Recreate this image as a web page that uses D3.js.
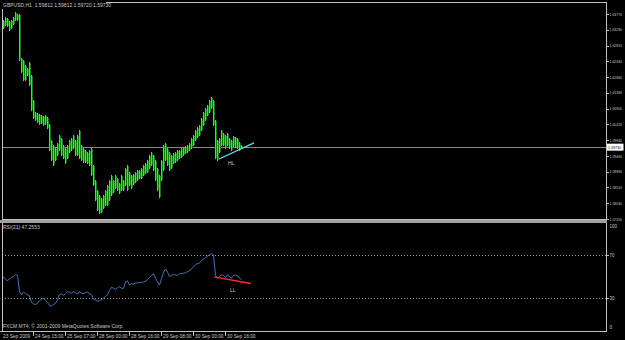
<!DOCTYPE html>
<html><head><meta charset="utf-8">
<script src="https://cdn.jsdelivr.net/npm/d3@7"></script>
<style>html,body{margin:0;padding:0;background:#000;overflow:hidden}</style>
</head><body><svg id="c" width="625" height="340"></svg>
<script>
// ---- data ----
const symbolTitle = "GBPUSD,H1";
const titleOHLC = ["1.59812", "1.59812", "1.59720", "1.59730"];
const lastPrice = 1.59730;
const rsiTitle = "RSI(21) 47.2553";
const copyright = "FXCM MT4, \u00a9 2001-2009 MetaQuotes Software Corp.";

const highs = [1.6344,1.6359,1.6368,1.6365,1.6356,1.6359,1.6368,1.6383,1.6377,1.6377,
1.6243,1.6237,1.6222,1.6213,1.6231,1.6192,1.6116,1.6080,1.6077,1.6074,
1.6071,1.6068,1.6071,1.6065,1.6043,1.5994,1.5979,1.5970,1.5985,1.6010,
1.6001,1.5979,1.5970,1.5979,1.5994,1.6001,1.6010,1.5994,1.6010,1.6025,
1.5979,1.5970,1.5964,1.5958,1.5964,1.5970,1.5919,1.5873,1.5843,1.5828,
1.5819,1.5828,1.5843,1.5858,1.5873,1.5889,1.5873,1.5889,1.5880,1.5864,
1.5889,1.5873,1.5910,1.5919,1.5898,1.5889,1.5892,1.5898,1.5904,1.5904,
1.5910,1.5919,1.5925,1.5934,1.5949,1.5958,1.5949,1.5934,1.5910,1.5889,
1.5934,1.5979,1.5985,1.5970,1.5958,1.5949,1.5955,1.5958,1.5964,1.5964,
1.5970,1.5973,1.5976,1.5979,1.5985,1.6001,1.6010,1.6025,1.6034,1.6040,
1.6061,1.6080,1.6092,1.6101,1.6116,1.6125,1.6116,1.6055,1.5994,1.6001,
1.6025,1.6016,1.6010,1.6016,1.6001,1.5994,1.6007,1.6004,1.6001,1.5988,
1.5981];
const lows = [1.6319,1.6335,1.6344,1.6341,1.6328,1.6335,1.6347,1.6359,1.6359,1.6237,
1.6201,1.6177,1.6177,1.6192,1.6161,1.6086,1.6061,1.6055,1.6049,1.6043,
1.6046,1.6040,1.6043,1.6031,1.5965,1.5934,1.5919,1.5934,1.5949,1.5964,
1.5949,1.5940,1.5925,1.5940,1.5958,1.5964,1.5970,1.5949,1.5949,1.5940,
1.5934,1.5928,1.5928,1.5925,1.5919,1.5888,1.5858,1.5813,1.5782,1.5773,
1.5776,1.5788,1.5797,1.5797,1.5813,1.5828,1.5837,1.5849,1.5843,1.5834,
1.5843,1.5843,1.5858,1.5843,1.5858,1.5849,1.5861,1.5867,1.5873,1.5880,
1.5880,1.5889,1.5895,1.5898,1.5910,1.5919,1.5904,1.5873,1.5843,1.5822,
1.5873,1.5904,1.5934,1.5919,1.5904,1.5910,1.5925,1.5928,1.5934,1.5940,
1.5943,1.5949,1.5955,1.5958,1.5964,1.5970,1.5979,1.5994,1.6004,1.6010,
1.6025,1.6040,1.6055,1.6071,1.6080,1.6092,1.6040,1.5940,1.5934,1.5958,
1.5979,1.5979,1.5970,1.5979,1.5970,1.5964,1.5976,1.5973,1.5970,1.5964,
1.5972];
const rsi = [47,49.5,47.5,46,48,49,50,52,51,36,
33,35.5,34,33,32,26,24.5,24,25,27.5,
29,29.5,28,26,23,22.5,24,25,28,33,
34,32.5,34,36,35,34.5,36,35,33.5,36,
34.5,34,35,35.5,34,33,29,28,27,27.5,
28.5,30,31.5,33,37,40,39,38,39.5,40.5,
39,39,45,46,42,43.5,43,44,44,44.5,
44.5,45,45.5,47,49,51,52.5,48.5,45,42,
48,54,57,54,50,51,52,51.5,51,52.5,
53,53,53.5,54.5,55.5,57,59,61,62,62.5,
65,66,67.5,69,70,71.5,70,51,48.5,50,
51.5,51,49,51.5,50,48.5,51,51.5,50.5,48.5,
47.26];

const priceTicks = [1.63770,1.63290,1.62810,1.62340,1.61860,1.61380,1.60900,
  1.60420,1.59940,1.59460,1.58990,1.58510,1.58030,1.57550];
const rsiTicks = [100,70,30,0];
const rsiLevels = [70,30];
const timeLabels = ["23 Sep 2009","24 Sep 15:00","25 Sep 07:00","28 Sep 00:00",
  "28 Sep 16:00","29 Sep 08:00","30 Sep 00:00","30 Sep 16:00"];
const timeIdx = [0,16,32,48,64,80,96,112];
const hlLine = [[109,1.5937],[126.5,1.5986]];
const llLine = [[106.5,49.6],[125,43.5]];

// ---- layout ----
const L = 2, R = 606, mTop = 2, mBot = 220, rTop = 223, rBot = 331;
const FONT = "'Liberation Sans', Arial, sans-serif";
const txtCol = "#c8c8c8";

const svg = d3.select("#c");
svg.append("rect").attr("width",625).attr("height",340).attr("fill","#000");

const x = d3.scaleLinear().domain([0,300]).range([1,601]);
const y = d3.scaleLinear().domain([1.57550,1.63770]).range([219,14]);
const yr = d3.scaleLinear().domain([0,100]).range([330.25,222.75]);

const defs = svg.append("defs");
defs.append("clipPath").attr("id","cm").append("rect")
  .attr("x",L).attr("y",mTop).attr("width",R-L).attr("height",mBot-mTop);
defs.append("clipPath").attr("id","cr").append("rect")
  .attr("x",L).attr("y",rTop).attr("width",R-L).attr("height",rBot-rTop);

// main panel
const gm = svg.append("g").attr("clip-path","url(#cm)");
gm.append("line").attr("x1",L).attr("x2",R)
  .attr("y1",Math.round(y(lastPrice))+0.5).attr("y2",Math.round(y(lastPrice))+0.5)
  .attr("stroke","#8a8a8a").attr("stroke-width",1);

// dim body behind each bar (tick overlap look)
gm.selectAll("rect.barbg").data(highs).join("rect").attr("class","barbg")
  .attr("x",(d,i)=>x(i)).attr("width",2)
  .attr("y",d=>Math.round(y(d))+1).attr("height",(d,i)=>Math.max(1,Math.round(y(lows[i]))-Math.round(y(d))-1))
  .attr("fill","#0d7a0d").attr("shape-rendering","crispEdges");
gm.selectAll("line.bar").data(highs).join("line").attr("class","bar")
  .attr("x1",(d,i)=>x(i)+0.5).attr("x2",(d,i)=>x(i)+0.5)
  .attr("y1",d=>Math.round(y(d))).attr("y2",(d,i)=>Math.round(y(lows[i]))+1)
  .attr("stroke","#20ff20").attr("stroke-width",1).attr("shape-rendering","crispEdges");

gm.append("line")
  .attr("x1",x(hlLine[0][0])).attr("y1",y(hlLine[0][1]))
  .attr("x2",x(hlLine[1][0])).attr("y2",y(hlLine[1][1]))
  .attr("stroke","#5fe0f0").attr("stroke-width",1.3);
gm.append("text").attr("x",x(113.5)).attr("y",y(1.5918)).text("HL")
  .attr("fill",txtCol).attr("font-family",FONT).attr("font-size",5);

// rsi panel
const gr = svg.append("g").attr("clip-path","url(#cr)");
gr.selectAll("line.lv").data(rsiLevels).join("line").attr("class","lv")
  .attr("x1",L).attr("x2",R).attr("y1",d=>Math.round(yr(d))+0.5).attr("y2",d=>Math.round(yr(d))+0.5)
  .attr("stroke","#9a9a9a").attr("stroke-dasharray","1,2").attr("stroke-width",1);
gr.append("path").datum(rsi)
  .attr("d", d3.line().x((d,i)=>x(i)+0.5).y(d=>yr(d)))
  .attr("fill","none").attr("stroke","#4a72b8").attr("stroke-width",1);
gr.append("line")
  .attr("x1",x(llLine[0][0])).attr("y1",yr(llLine[0][1]))
  .attr("x2",x(llLine[1][0])).attr("y2",yr(llLine[1][1]))
  .attr("stroke","#ff2a2a").attr("stroke-width",1.4);
gr.append("text").attr("x",x(114.5)).attr("y",yr(35.5)).text("LL")
  .attr("fill",txtCol).attr("font-family",FONT).attr("font-size",5);

// borders
svg.append("rect").attr("x",L+0.5).attr("y",mTop+0.5).attr("width",R-L).attr("height",mBot-mTop-1)
  .attr("fill","none").attr("stroke","#c0c0c0");
svg.append("rect").attr("x",0).attr("y",mBot).attr("width",R+1).attr("height",3).attr("fill","#a0a0a0");
svg.append("line").attr("x1",L+0.5).attr("x2",L+0.5).attr("y1",rTop).attr("y2",rBot).attr("stroke","#c0c0c0");
svg.append("line").attr("x1",R+0.5).attr("x2",R+0.5).attr("y1",rTop).attr("y2",rBot).attr("stroke","#c0c0c0");
svg.append("line").attr("x1",0).attr("x2",R+1).attr("y1",rBot+0.5).attr("y2",rBot+0.5).attr("stroke","#c0c0c0");

// right price axis
const pa = svg.append("g");
pa.selectAll("line").data(priceTicks).join("line")
  .attr("x1",R).attr("x2",R+3).attr("y1",d=>Math.round(y(d))+0.5).attr("y2",d=>Math.round(y(d))+0.5)
  .attr("stroke","#c0c0c0");
pa.selectAll("text").data(priceTicks).join("text")
  .attr("x",R+3.5).attr("y",d=>y(d)+1.6).text(d=>d.toFixed(5))
  .attr("textLength",12.5).attr("lengthAdjust","spacingAndGlyphs")
  .attr("fill",txtCol).attr("font-family",FONT).attr("font-size",4.3);
svg.append("rect").attr("x",R+1).attr("y",y(lastPrice)-3.5).attr("width",16.5).attr("height",7).attr("fill","#fff");
svg.append("text").attr("x",R+2).attr("y",y(lastPrice)+1.6).text(lastPrice.toFixed(5))
  .attr("textLength",13).attr("lengthAdjust","spacingAndGlyphs")
  .attr("fill","#000").attr("font-family",FONT).attr("font-size",4.3);

// rsi axis
svg.selectAll("text.ra").data(rsiTicks).join("text").attr("class","ra")
  .attr("x",R+3.5).attr("y",d=>Math.min(Math.max(yr(d),226),327)+1.6).text(d=>d)
  .attr("fill",txtCol).attr("font-family",FONT).attr("font-size",4.5);
svg.selectAll("line.rt").data(rsiLevels).join("line").attr("class","rt")
  .attr("x1",R).attr("x2",R+3).attr("y1",d=>Math.round(yr(d))+0.5).attr("y2",d=>Math.round(yr(d))+0.5)
  .attr("stroke","#c0c0c0");

// time axis
svg.selectAll("line.tt").data(timeIdx.slice(1)).join("line").attr("class","tt")
  .attr("x1",d=>x(d)+0.5).attr("x2",d=>x(d)+0.5).attr("y1",rBot).attr("y2",rBot+5)
  .attr("stroke","#c0c0c0");
svg.selectAll("text.tl").data(timeLabels).join("text").attr("class","tl")
  .attr("x",(d,i)=>x(timeIdx[i])+2).attr("y",338).text(d=>d)
  .attr("fill",txtCol).attr("font-family",FONT).attr("font-size",4.8);

// titles
svg.append("rect").attr("x",2).attr("y",2).attr("width",104).attr("height",7).attr("fill","#000");
svg.append("text").attr("x",3).attr("y",7).text(symbolTitle + "  " + titleOHLC.join(" "))
  .attr("fill",txtCol).attr("font-family",FONT).attr("font-size",5).attr("xml:space","preserve");
svg.append("text").attr("x",3).attr("y",229).text(rsiTitle)
  .attr("fill",txtCol).attr("font-family",FONT).attr("font-size",5);
svg.append("text").attr("x",3).attr("y",328).text(copyright)
  .attr("fill",txtCol).attr("font-family",FONT).attr("font-size",5);
</script></body></html>
